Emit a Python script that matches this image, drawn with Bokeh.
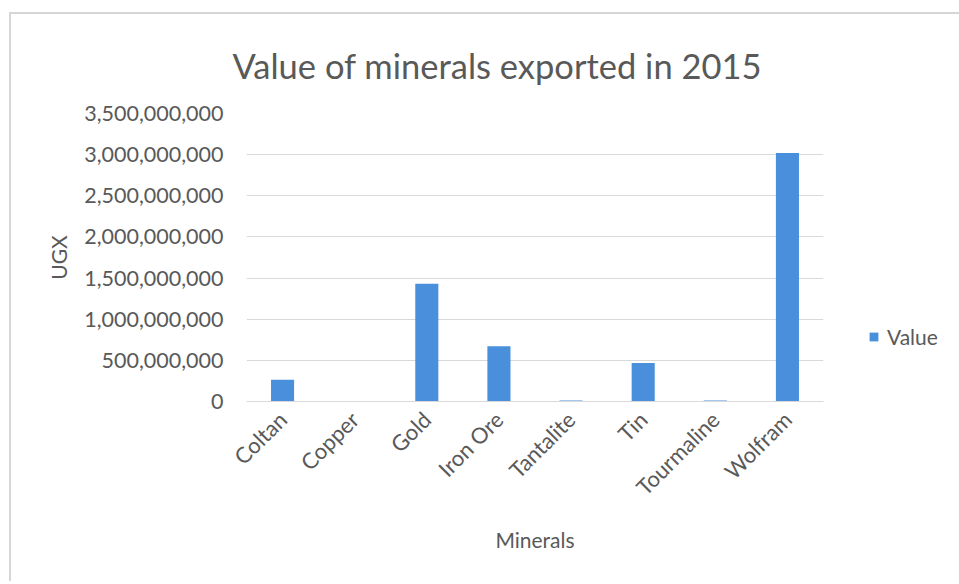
from bokeh.plotting import figure
from bokeh.models import ColumnDataSource, NumeralTickFormatter, Legend, LegendItem, Title, FixedTicker
from bokeh.embed import file_html
from bokeh.resources import INLINE
import math

minerals = ["Coltan", "Copper", "Gold", "Iron Ore", "Tantalite", "Tin", "Tourmaline", "Wolfram"]
values = [265000000, 0, 1430000000, 670000000, 12000000, 468000000, 12000000, 3020000000]
y_ticks = [0, 500000000, 1000000000, 1500000000, 2000000000, 2500000000, 3000000000, 3500000000]

FONT = "Lato"
TXT = "#595959"
BLUE = "#4a8fdc"

src = ColumnDataSource(dict(m=minerals, v=values))

p = figure(x_range=minerals, y_range=(0, 3500000000),
           frame_width=577, frame_height=288,
           output_backend="svg", toolbar_location=None,
           min_border_left=235, min_border_right=134, min_border_top=98, min_border_bottom=180,
           margin=(12, 0, 0, 9))
p.styles = {"border-top": "2px solid #d6d6d6", "border-left": "2px solid #d6d6d6"}

r = p.vbar(x="m", top="v", width=0.32, source=src, fill_color=BLUE, line_color=None)

t = Title(text="Value of minerals exported in 2015", align="left", offset=-14,
          text_font=FONT, text_font_size="34.5px", text_font_style="normal", text_color=TXT,
          standoff=56)
p.add_layout(t, "above")

p.yaxis.ticker = FixedTicker(ticks=y_ticks)
p.yaxis.formatter = NumeralTickFormatter(format="0,0")
p.yaxis.axis_line_color = None
p.yaxis.major_tick_line_color = None
p.yaxis.minor_tick_line_color = None
p.yaxis.major_label_text_font = FONT
p.yaxis.major_label_text_font_size = "21.5px"
p.yaxis.major_label_text_color = TXT
p.yaxis.major_label_standoff = 17
p.yaxis.axis_label = "UGX"
p.yaxis.axis_label_text_font = FONT
p.yaxis.axis_label_text_font_size = "21px"
p.yaxis.axis_label_text_font_style = "normal"
p.yaxis.axis_label_text_color = TXT
p.yaxis.axis_label_standoff = 10

p.xaxis.axis_line_color = "#d9d9d9"
p.xaxis.major_tick_line_color = None
p.xaxis.minor_tick_line_color = None
p.xaxis.major_label_orientation = math.pi / 4
p.xaxis.major_label_text_font = FONT
p.xaxis.major_label_text_font_size = "22px"
p.xaxis.major_label_text_color = TXT
p.xaxis.major_label_standoff = 8
p.xaxis.axis_label = "Minerals"
p.xaxis.axis_label_text_font = FONT
p.xaxis.axis_label_text_font_size = "21px"
p.xaxis.axis_label_text_font_style = "normal"
p.xaxis.axis_label_text_color = TXT
p.xaxis.axis_label_standoff = 14

p.xgrid.grid_line_color = None
p.ygrid.grid_line_color = "#d9d9d9"
p.outline_line_color = None

legend = Legend(items=[LegendItem(label="Value", renderers=[r])], location=(45, 52),
                border_line_color=None, background_fill_alpha=0, margin=0, padding=0,
                label_text_font=FONT, label_text_font_size="21px", label_text_color=TXT,
                glyph_width=11, glyph_height=11, label_standoff=8)
p.add_layout(legend, "right")

open("out.html", "w").write(file_html(p, INLINE))
